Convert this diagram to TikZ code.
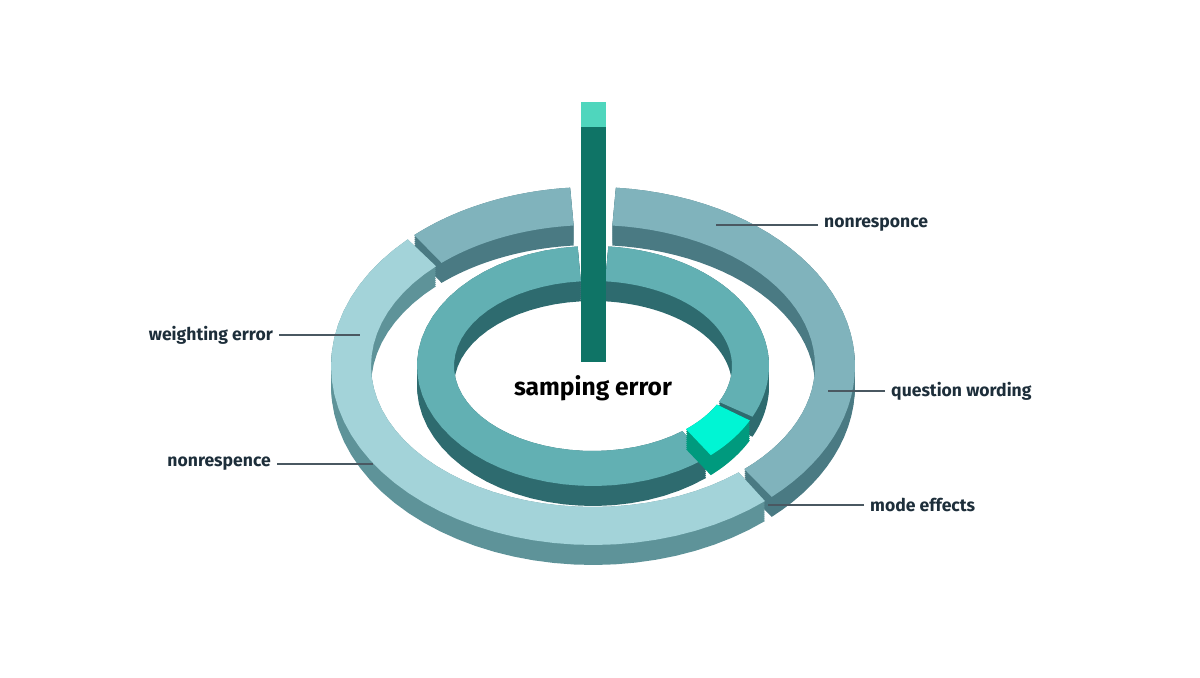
\documentclass[tikz,border=0pt]{standalone}
\usepackage{fontspec}
\setmainfont{Fira Sans}
\definecolor{txt}{HTML}{1D2E3A}
\definecolor{outtopA}{HTML}{A3D3D9}
\definecolor{outsideA}{HTML}{5E9399}
\definecolor{outtopB}{HTML}{80B3BC}
\definecolor{outsideB}{HTML}{4A7A83}
\definecolor{intop}{HTML}{62B0B3}
\definecolor{inside}{HTML}{2E6B6F}
\definecolor{hitop}{HTML}{00F5D4}
\definecolor{hiside}{HTML}{009A7E}
\definecolor{pillar}{HTML}{0F7466}
\definecolor{pillartop}{HTML}{4FD6BD}
\tikzset{
  label/.style = {font=\bfseries\fontsize{10}{12}\selectfont, text=txt},
  leader/.style = {draw=txt!80, line width=0.6pt}
}
% #1,#2 angles, #3,#4 outer radii, #5,#6 inner radii, #7 top colour, #8 side colour
\newcommand{\ringseg}[8]{%
  \foreach \dy in {20,18,...,0}{
    \fill[#8] plot[variable=\t, domain=#1:#2, samples=40] ({593+#3*cos(\t)},{366+\dy-#4*sin(\t)})
      -- plot[variable=\t, domain=#2:#1, samples=40] ({593+#5*cos(\t)},{366+\dy-#6*sin(\t)}) -- cycle;
  }
  \fill[#7] plot[variable=\t, domain=#1:#2, samples=40] ({593+#3*cos(\t)},{366-#4*sin(\t)})
    -- plot[variable=\t, domain=#2:#1, samples=40] ({593+#5*cos(\t)},{366-#6*sin(\t)}) -- cycle;
}
\begin{document}
\begin{tikzpicture}[x=0.02cm, y=-0.02cm]
\useasboundingbox (0,0) rectangle (1200,678);
% outer ring
\ringseg{95}{133}{262}{179}{222}{141}{outtopB}{outsideB}
\ringseg{-47}{85}{262}{179}{222}{141}{outtopB}{outsideB}
\ringseg{135}{311}{262}{179}{222}{141}{outtopA}{outsideA}
% inner ring
\ringseg{-25}{85}{176}{120}{139}{85}{intop}{inside}
\ringseg{95}{310}{176}{120}{139}{85}{intop}{inside}
\ringseg{-48}{-27}{176}{120}{139}{85}{hitop}{hiside}
% pillar
\fill[pillar] (581,127) rectangle (606,362);
\fill[pillartop] (581,102) rectangle (606,127);
% labels
\node[font=\bfseries\fontsize{14}{16}\selectfont, text=black] (samp) at (593,388) {samping error};
\node[label, anchor=west] (nonr1) at (818,225) {nonresponce};
\node[label, anchor=west] (quest) at (885,391) {question wording};
\node[label, anchor=west] (mode) at (864,505) {mode effects};
\node[label, anchor=east] (weight) at (279,335) {weighting error};
\node[label, anchor=east] (nonr2) at (277,464) {nonrespence};
\coordinate (p1) at (716,225);
\coordinate (p2) at (828,391);
\coordinate (p3) at (768,505);
\coordinate (p4) at (360,335);
\coordinate (p5) at (373,464);
\draw[leader] (nonr1.west) -- (p1);
\draw[leader] (quest.west) -- (p2);
\draw[leader] (mode.west) -- (p3);
\draw[leader] (weight.east) -- (p4);
\draw[leader] (nonr2.east) -- (p5);
\end{tikzpicture}
\end{document}
